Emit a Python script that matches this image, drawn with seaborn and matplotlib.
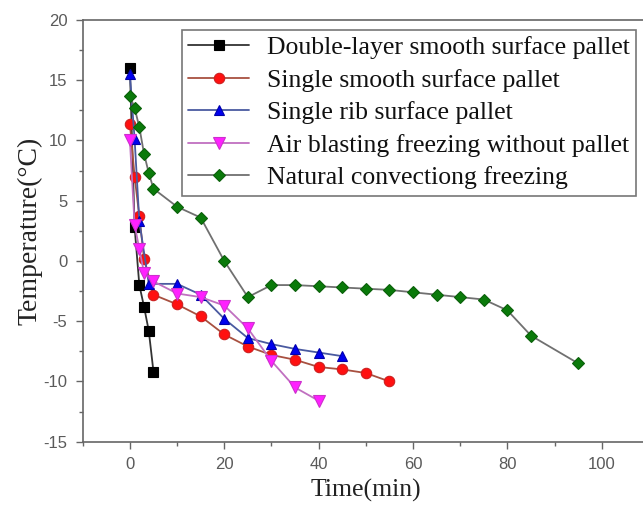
import matplotlib
matplotlib.use("Agg")
import matplotlib.pyplot as plt
import seaborn as sns
from matplotlib.ticker import MultipleLocator

# Data
double_t = [0, 1, 2, 3, 4, 5]
double_T = [16.0, 2.8, -2.0, -3.8, -5.8, -9.2]

smooth_t = [0, 1, 2, 3, 5, 10, 15, 20, 25, 30, 35, 40, 45, 50, 55]
smooth_T = [11.4, 7.0, 3.7, 0.2, -2.8, -3.6, -4.6, -6.1, -7.1, -7.8, -8.2, -8.8, -9.0, -9.3, -10.0]

rib_t = [0, 1, 2, 4, 10, 15, 20, 25, 30, 35, 40, 45]
rib_T = [15.5, 10.1, 3.3, -1.9, -1.9, -2.8, -4.8, -6.4, -6.9, -7.3, -7.6, -7.9]

air_t = [0, 1, 2, 3, 5, 10, 15, 20, 25, 30, 35, 40]
air_T = [10.0, 3.0, 1.0, -1.0, -1.7, -2.7, -3.0, -3.7, -5.6, -8.3, -10.5, -11.6]

nat_t = [0, 1, 2, 3, 4, 5, 10, 15, 20, 25, 30, 35, 40, 45, 50, 55, 60, 65, 70, 75, 80, 85, 95]
nat_T = [13.7, 12.7, 11.1, 8.9, 7.3, 6.0, 4.5, 3.6, 0.0, -3.0, -2.0, -2.0, -2.1, -2.2, -2.3,
         -2.4, -2.6, -2.8, -3.0, -3.2, -4.1, -6.2, -8.5]

labels = ["Double-layer smooth surface pallet", "Single smooth surface pallet",
          "Single rib surface pallet", "Air blasting freezing without pallet",
          "Natural convectiong freezing"]

sns.set_theme(style="ticks")
plt.rcParams["font.family"] = ["Liberation Serif", "DejaVu Serif"]
plt.rcParams["axes.unicode_minus"] = False

fig = plt.figure(figsize=(6.43, 5.15), dpi=100)
ax = fig.add_axes([82.7 / 643, 1 - 441.7 / 515, (649 - 82.7) / 643, (441.7 - 20) / 515])

series = [
    (double_t, double_T, "s", "#000000", "#000000", "#333333", 7),
    (smooth_t, smooth_T, "o", "#ff1010", "#cc2020", "#a85040", 7.5),
    (rib_t, rib_T, "^", "#0000ee", "#0000aa", "#4a5aa0", 7.5),
    (air_t, air_T, "v", "#ff20ff", "#cc30cc", "#c070c0", 8),
    (nat_t, nat_T, "D", "#0a7a0a", "#0a600a", "#707070", 6.5),
]
for (t, T, mk, fc, ec, lc, ms), lab in zip(series, labels):
    sns.lineplot(x=t, y=T, ax=ax, marker=mk, color=lc, linewidth=1.3,
                 markerfacecolor=fc, markeredgecolor=ec, markersize=ms,
                 markeredgewidth=0.8, label=lab)

ax.set_xlim(-10, 110)
ax.set_ylim(-15, 20)
ax.xaxis.set_major_locator(MultipleLocator(20))
ax.xaxis.set_minor_locator(MultipleLocator(10))
ax.yaxis.set_major_locator(MultipleLocator(5))
ax.yaxis.set_minor_locator(MultipleLocator(2.5))

spine_c = "#666666"
for s in ax.spines.values():
    s.set_color(spine_c)
    s.set_linewidth(1.2)
ax.spines["right"].set_visible(False)
ax.tick_params(which="major", direction="out", length=5, width=1, color=spine_c,
               labelsize=12, labelcolor="#5a5a5a", pad=6)
ax.tick_params(which="minor", direction="out", length=3, width=1, color=spine_c)
for lbl in ax.get_xticklabels() + ax.get_yticklabels():
    lbl.set_family(["Liberation Sans", "DejaVu Sans"])

ax.set_xlabel("Time(min)", fontsize=18.5, color="#222222", labelpad=5)
ax.set_ylabel("Temperature(°C)", fontsize=20, color="#222222", labelpad=1)

leg = ax.legend(loc="upper left", bbox_to_anchor=((182 - 82.7) / (649 - 82.7), 1 - 10 / 421.7),
                fontsize=18.5, frameon=True, fancybox=False, handlelength=2.35,
                handletextpad=0.7, labelspacing=0.37, borderpad=0.25, borderaxespad=0)
leg.get_frame().set_edgecolor("#555555")
leg.get_frame().set_linewidth(1.2)
for txt in leg.get_texts():
    txt.set_color("#111111")

fig.savefig("out.png", dpi=100)
